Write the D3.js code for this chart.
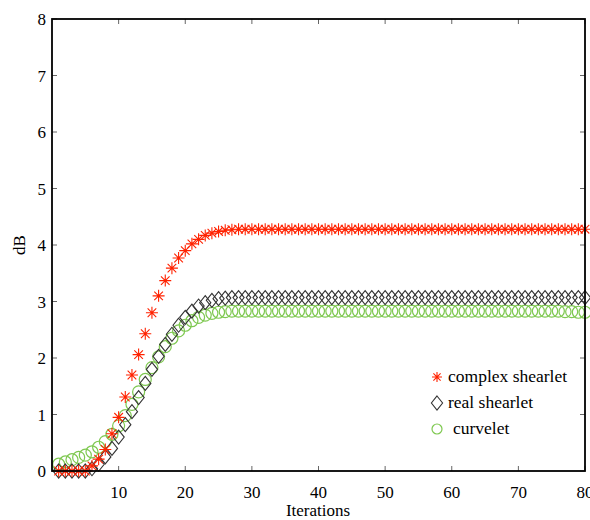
<!DOCTYPE html>
<html><head><meta charset="utf-8">
<script src="https://cdn.jsdelivr.net/npm/d3@7"></script>
<style>body{margin:0;background:#fff}svg{display:block}</style>
</head><body><svg id="c" width="590" height="520"></svg>
<script>
const iterations = d3.range(1, 81);
const complexHead = [0,0,0,0,0,0.09,0.21,0.38,0.66,0.95,1.31,1.7,2.06,2.43,2.8,3.1,3.37,3.59,3.77,3.9,4.02,4.1,4.17,4.21,4.24,4.26,4.27];
const complexTail = 4.28;
const realHead = [0,0,0,0,0,0.04,0.12,0.25,0.4,0.6,0.82,1.05,1.3,1.55,1.8,2.03,2.24,2.42,2.58,2.72,2.83,2.92,2.98,3.02,3.05,3.06];
const realTail = 3.07;
const curveHead = [0.12,0.16,0.2,0.24,0.28,0.34,0.42,0.52,0.65,0.8,0.98,1.18,1.4,1.62,1.83,2.02,2.2,2.35,2.48,2.58,2.66,2.72,2.76,2.79,2.81,2.82];
const curveTail = 2.83;
const curveEnd = [2.82,2.82,2.81,2.81];
const xTicks = [10,20,30,40,50,60,70,80];
const yTicks = [0,1,2,3,4,5,6,7,8];
const legendLabels = ["complex shearlet","real shearlet","curvelet"];

const complexVals = iterations.map((d,i)=> i<complexHead.length ? complexHead[i] : complexTail);
const realVals = iterations.map((d,i)=> i<realHead.length ? realHead[i] : realTail);
const curveVals = iterations.map((d,i)=> i<curveHead.length ? curveHead[i] : (i>=80-curveEnd.length ? curveEnd[i-(80-curveEnd.length)] : curveTail));

const FONT = "Liberation Serif";
const L=52, R=585, T=19, B=471;
const x = d3.scaleLinear().domain([0,80]).range([L,R]);
const y = d3.scaleLinear().domain([0,8]).range([B,T]);
const svg = d3.select("#c");

// ticks (inward, all four sides)
const tk = svg.append("g").attr("stroke","#666").attr("stroke-width",1);
xTicks.forEach(v=>{
  tk.append("line").attr("x1",x(v)).attr("x2",x(v)).attr("y1",B).attr("y2",B-5);
  tk.append("line").attr("x1",x(v)).attr("x2",x(v)).attr("y1",T).attr("y2",T+5);
});
yTicks.forEach(v=>{
  tk.append("line").attr("x1",L).attr("x2",L+5).attr("y1",y(v)).attr("y2",y(v));
  tk.append("line").attr("x1",R).attr("x2",R-5).attr("y1",y(v)).attr("y2",y(v));
});

// data
const gC = svg.append("g");
curveVals.forEach((v,i)=>{
  gC.append("circle").attr("cx",x(iterations[i])).attr("cy",y(v)).attr("r",6)
    .attr("fill","none").attr("stroke","#7ec850").attr("stroke-width",1.2);
});
const diamond = (cx,cy,s)=>`M${cx},${cy-s}L${cx+s*0.8},${cy}L${cx},${cy+s}L${cx-s*0.8},${cy}Z`;
const gR = svg.append("g");
realVals.forEach((v,i)=>{
  gR.append("path").attr("d",diamond(x(iterations[i]),y(v),7))
    .attr("fill","none").attr("stroke","#333").attr("stroke-width",1.1);
});
const star = (cx,cy,s)=>{const d=s*0.72;return `M${cx-s},${cy}H${cx+s}M${cx},${cy-s}V${cy+s}M${cx-d},${cy-d}L${cx+d},${cy+d}M${cx-d},${cy+d}L${cx+d},${cy-d}`;};
const gS = svg.append("g");
complexVals.forEach((v,i)=>{
  gS.append("path").attr("d",star(x(iterations[i]),y(v),6))
    .attr("fill","none").attr("stroke","#ff2200").attr("stroke-width",1.1);
});

// frame
svg.append("rect").attr("x",L).attr("y",T).attr("width",R-L).attr("height",B-T)
  .attr("fill","none").attr("stroke","#000").attr("stroke-width",1.8);

// texts
const txt = (xx,yy,t,anchor,size)=>svg.append("text").attr("x",xx).attr("y",yy)
  .attr("text-anchor",anchor).attr("font-family",FONT).attr("font-size",size).attr("fill","#000").text(t);
xTicks.forEach(v=> txt(x(v),B+27,v,"middle",17));
yTicks.forEach(v=> txt(L-6,y(v)+6,v,"end",17));
txt(318,516,"Iterations","middle",17);
svg.append("text").attr("transform","translate(25,245) rotate(-90)").attr("text-anchor","middle")
  .attr("font-family",FONT).attr("font-size",17).attr("fill","#000").text("dB");

// legend
const lx=437, ly=[377,403,429];
svg.append("path").attr("d",star(lx,ly[0],5)).attr("fill","none").attr("stroke","#ff2200").attr("stroke-width",1.1);
svg.append("path").attr("d",diamond(lx,ly[1],7)).attr("fill","none").attr("stroke","#333").attr("stroke-width",1.1);
svg.append("circle").attr("cx",lx).attr("cy",ly[2]).attr("r",5).attr("fill","none").attr("stroke","#7ec850").attr("stroke-width",1.2);
legendLabels.forEach((t,i)=> txt(i===2?453:448, ly[i]+5, t, "start", 17.5));
</script></body></html>
